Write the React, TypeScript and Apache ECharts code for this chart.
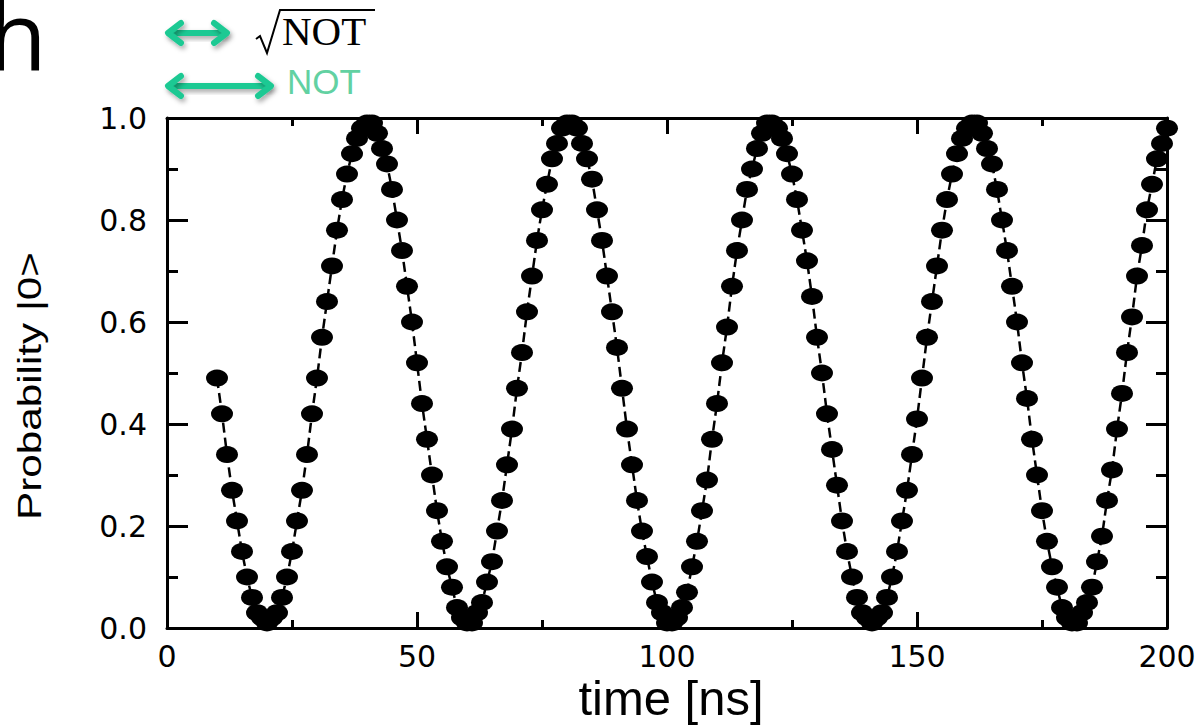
import React, { useEffect, useRef } from 'react';
import * as echarts from 'echarts';

// ---- data ----
const TIME_START = 10; // ns, first sample
const TIME_STEP = 1; // ns between samples
const probability: number[] = [
  0.49, 0.42, 0.34, 0.27, 0.21, 0.15, 0.10, 0.06, 0.03, 0.02,
  0.01, 0.02, 0.03, 0.06, 0.10, 0.15, 0.21, 0.27, 0.34, 0.42,
  0.49, 0.57, 0.64, 0.71, 0.78, 0.84, 0.89, 0.93, 0.96, 0.98,
  0.99, 0.99, 0.97, 0.94, 0.91, 0.86, 0.80, 0.74, 0.67, 0.60,
  0.52, 0.44, 0.37, 0.30, 0.23, 0.17, 0.12, 0.08, 0.04, 0.02,
  0.01, 0.01, 0.03, 0.05, 0.09, 0.13, 0.19, 0.25, 0.32, 0.39,
  0.47, 0.54, 0.62, 0.69, 0.76, 0.82, 0.87, 0.92, 0.95, 0.98,
  0.99, 0.99, 0.98, 0.95, 0.92, 0.88, 0.82, 0.76, 0.69, 0.62,
  0.55, 0.47, 0.39, 0.32, 0.25, 0.19, 0.14, 0.09, 0.05, 0.03,
  0.01, 0.01, 0.02, 0.04, 0.07, 0.12, 0.17, 0.23, 0.29, 0.37,
  0.44, 0.52, 0.59, 0.67, 0.74, 0.80, 0.86, 0.90, 0.94, 0.97,
  0.99, 0.99, 0.98, 0.96, 0.93, 0.89, 0.84, 0.78, 0.72, 0.65,
  0.57, 0.50, 0.42, 0.35, 0.28, 0.21, 0.15, 0.10, 0.06, 0.03,
  0.02, 0.01, 0.02, 0.03, 0.06, 0.10, 0.15, 0.21, 0.27, 0.34,
  0.41, 0.49, 0.57, 0.64, 0.71, 0.78, 0.84, 0.89, 0.93, 0.96,
  0.98, 0.99, 0.99, 0.97, 0.94, 0.91, 0.86, 0.80, 0.74, 0.67,
  0.60, 0.52, 0.45, 0.37, 0.30, 0.23, 0.17, 0.12, 0.08, 0.04,
  0.02, 0.01, 0.01, 0.03, 0.05, 0.08, 0.13, 0.18, 0.25, 0.31,
  0.39, 0.46, 0.54, 0.61, 0.69, 0.75, 0.82, 0.87, 0.92, 0.95, 0.98,
];
const X_RANGE = [0, 200];
const X_INTERVAL = 50;
const Y_RANGE = [0, 1];
const Y_INTERVAL = 0.2;
const X_TITLE = 'time [ns]';
const Y_TITLE = 'Probability |0>';
const PANEL_LETTER = 'h';
const GATE_SQRT = 'NOT';
const GATE_NOT = 'NOT';

const GREEN = '#1fc993';
const NOT_GREEN = '#62d1a2';
const SHADOW = {
  shadowColor: 'rgba(0,0,0,0.35)',
  shadowBlur: 5,
  shadowOffsetX: 2,
  shadowOffsetY: 3,
};

function arrow(x1: number, x2: number, y: number) {
  const head = {
    stroke: GREEN,
    lineWidth: 6,
    lineCap: 'round',
    lineJoin: 'round',
    fill: null,
    ...SHADOW,
  };
  const ax = 13;
  const ay = 10;
  return {
    type: 'group',
    children: [
      {
        type: 'rect',
        shape: { x: x1 + 1, y: y - 3, width: x2 - x1 - 2, height: 6, r: 3 },
        style: { fill: GREEN, ...SHADOW },
      },
      { type: 'polyline', shape: { points: [[x1 + ax, y - ay], [x1, y], [x1 + ax, y + ay]] }, style: { ...head } },
      { type: 'polyline', shape: { points: [[x2 - ax, y - ay], [x2, y], [x2 - ax, y + ay]] }, style: { ...head } },
    ],
  };
}

export default function App() {
  const ref = useRef<HTMLDivElement>(null);
  useEffect(() => {
    document.body.style.margin = '0';
    const chart = echarts.init(ref.current!, null, { renderer: 'svg' });
    const data = probability.map((p, i) => [TIME_START + i * TIME_STEP, p]);

    const axisBase = {
      type: 'value',
      axisLine: { show: true, onZero: false, lineStyle: { color: '#000', width: 3 } },
      splitLine: { show: false },
      minorSplitLine: { show: false },
    };

    const xCommon = {
      ...axisBase,
      min: X_RANGE[0],
      max: X_RANGE[1],
      interval: X_INTERVAL,
      axisTick: { show: true, inside: true, length: 16, lineStyle: { color: '#000', width: 3 } },
      minorTick: { show: true, splitNumber: 2, length: 8, lineStyle: { color: '#000', width: 3 } },
    };
    const yCommon = {
      ...axisBase,
      min: Y_RANGE[0],
      max: Y_RANGE[1],
      interval: Y_INTERVAL,
      axisTick: { show: true, inside: true, length: 21, lineStyle: { color: '#000', width: 3 } },
      minorTick: { show: true, splitNumber: 2, length: 11, lineStyle: { color: '#000', width: 3 } },
    };

    const labelFont = 'DejaVu Sans, Liberation Sans, Arial, sans-serif';

    const option = {
      animation: false,
      backgroundColor: '#fff',
      grid: { left: 167, right: 37, top: 118, bottom: 98, containLabel: false, outerBoundsMode: 'none' },
      xAxis: [
        {
          ...xCommon,
          position: 'bottom',
          axisLabel: {
            show: true,
            color: '#000',
            fontSize: 30,
            fontFamily: labelFont,
            margin: 13,
          },
        },
        { ...xCommon, position: 'top', axisLabel: { show: false } },
      ],
      yAxis: [
        {
          ...yCommon,
          position: 'left',
          axisLabel: {
            show: true,
            color: '#000',
            fontSize: 30,
            fontFamily: labelFont,
            margin: 20,
            formatter: (v: number) => v.toFixed(1),
          },
        },
        { ...yCommon, position: 'right', axisLabel: { show: false } },
      ],
      series: [
        {
          type: 'line',
          xAxisIndex: 0,
          yAxisIndex: 0,
          data,
          clip: false,
          symbol: 'circle',
          symbolSize: [22, 17],
          itemStyle: { color: '#000' },
          lineStyle: { color: '#000', width: 2.5, type: [10, 5] },
        },
      ],
      graphic: [
        {
          type: 'text',
          x: -12,
          y: 80,
          style: {
            text: PANEL_LETTER,
            fontSize: 96,
            fontFamily: 'Open Sans, sans-serif',
            fill: '#000',
            textVerticalAlign: 'bottom',
          },
        },
        arrow(168, 227, 33),
        arrow(168, 271, 86),
        {
          type: 'polyline',
          shape: { points: [[256, 39], [260, 36], [267, 53], [280, 10], [375, 10]] },
          style: { stroke: '#000', lineWidth: 2, fill: null, lineJoin: 'miter' },
        },
        {
          type: 'text',
          x: 282,
          y: 51,
          style: {
            text: GATE_SQRT,
            fontSize: 41,
            fontFamily: 'Liberation Serif, Times New Roman, serif',
            fill: '#000',
            textVerticalAlign: 'bottom',
          },
        },
        {
          type: 'text',
          x: 287,
          y: 99,
          style: {
            text: GATE_NOT,
            fontSize: 35,
            fontFamily: 'Liberation Sans, Arial, sans-serif',
            fill: NOT_GREEN,
            textVerticalAlign: 'bottom',
          },
        },
        {
          type: 'text',
          x: 671,
          y: 698,
          style: {
            text: X_TITLE,
            fontSize: 49,
            fontFamily: 'Liberation Sans, Arial, sans-serif',
            fill: '#000',
            textAlign: 'center',
            textVerticalAlign: 'middle',
          },
        },
        {
          type: 'text',
          x: 30,
          y: 386,
          rotation: Math.PI / 2,
          scaleX: 1.28,
          scaleY: 1,
          style: {
            text: Y_TITLE,
            fontSize: 33,
            fontFamily: 'Liberation Sans, Arial, sans-serif',
            fill: '#000',
            textAlign: 'center',
            textVerticalAlign: 'middle',
          },
        },
      ],
    };
    chart.setOption(option as any);
    return () => chart.dispose();
  }, []);
  return (
    <div
      ref={ref}
      style={{ position: 'absolute', left: 0, top: 0, width: 1204, height: 726 }}
    />
  );
}
